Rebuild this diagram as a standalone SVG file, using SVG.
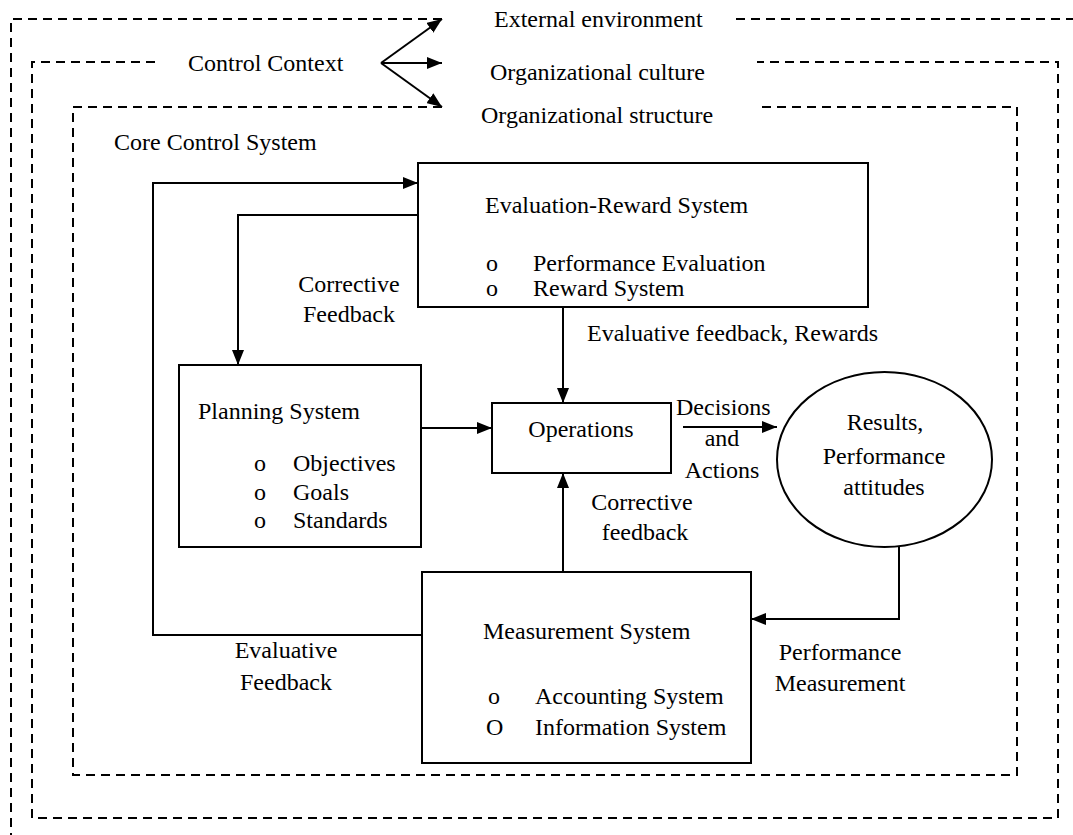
<svg xmlns="http://www.w3.org/2000/svg" width="1073" height="835" viewBox="0 0 1073 835">
<defs>
<style>
text{font-family:"Liberation Serif","Times New Roman",serif;font-size:24px;fill:#000}
.c{text-anchor:middle}
.box{fill:#fff;stroke:#000;stroke-width:2}
.ln{fill:none;stroke:#000;stroke-width:2}
.dash{fill:none;stroke:#000;stroke-width:2;stroke-dasharray:9 6}
</style>
<marker id="ah" markerUnits="userSpaceOnUse" markerWidth="15" markerHeight="12" refX="15" refY="6" orient="auto">
<path d="M0,0 L15,6 L0,12 z" fill="#000"/>
</marker>
</defs>
<rect width="1073" height="835" fill="#fff"/>
<g id="frames">
<path class="dash" d="M442,19 H11 V835 M736,19 H1073"/>
<path class="dash" d="M155,62 H32 V818 H1058 V62 H757"/>
<path class="dash" d="M442,107 H73 V775 H1017 V107 H757"/>
</g>
<g id="context-labels">
<text x="494" y="27">External environment</text>
<text x="188" y="71">Control Context</text>
<text x="490" y="80">Organizational culture</text>
<text x="481" y="123">Organizational structure</text>
<text x="114" y="150">Core Control System</text>
</g>
<g id="connectors">
<path class="ln" d="M381,63 L442,19" marker-end="url(#ah)"/>
<path class="ln" d="M381,63 H442" marker-end="url(#ah)"/>
<path class="ln" d="M381,63 L442,107" marker-end="url(#ah)"/>
<path class="ln" d="M421,635 H153 V183 H418" marker-end="url(#ah)"/>
<path class="ln" d="M418,215 H238 V365" marker-end="url(#ah)"/>
<path class="ln" d="M563,307 V403" marker-end="url(#ah)"/>
<path class="ln" d="M421,428 H492" marker-end="url(#ah)"/>
<path class="ln" d="M683,427 H777" marker-end="url(#ah)"/>
<path class="ln" d="M563,572 V473" marker-end="url(#ah)"/>
<path class="ln" d="M899,547 V619 H751" marker-end="url(#ah)"/>
<text class="c" x="349" y="292">Corrective</text>
<text class="c" x="349" y="322">Feedback</text>
<text x="587" y="341">Evaluative feedback, Rewards</text>
<text x="676" y="415">Decisions</text>
<text class="c" x="722" y="446">and</text>
<text class="c" x="722" y="478">Actions</text>
<text class="c" x="642" y="510">Corrective</text>
<text class="c" x="645" y="540">feedback</text>
<text class="c" x="286" y="658">Evaluative</text>
<text class="c" x="286" y="690">Feedback</text>
<text class="c" x="840" y="660">Performance</text>
<text class="c" x="840" y="691">Measurement</text>
</g>
<g id="evaluation-reward">
<rect class="box" x="418" y="163" width="450" height="144"/>
<text x="485" y="213">Evaluation-Reward System</text>
<text x="486" y="271">o</text><text x="533" y="271">Performance Evaluation</text>
<text x="486" y="296">o</text><text x="533" y="296">Reward System</text>
</g>
<g id="planning">
<rect class="box" x="179" y="365" width="242" height="182"/>
<text x="198" y="419">Planning System</text>
<text x="254" y="471">o</text><text x="293" y="471">Objectives</text>
<text x="254" y="500">o</text><text x="293" y="500">Goals</text>
<text x="254" y="528">o</text><text x="293" y="528">Standards</text>
</g>
<g id="operations">
<rect class="box" x="492" y="403" width="179" height="70"/>
<text class="c" x="581" y="437">Operations</text>
</g>
<g id="results">
<ellipse class="box" cx="884.5" cy="459.5" rx="107.5" ry="87.5"/>
<text class="c" x="885" y="430">Results,</text>
<text class="c" x="884" y="464">Performance</text>
<text class="c" x="884" y="495">attitudes</text>
</g>
<g id="measurement">
<rect class="box" x="422" y="572" width="329" height="191"/>
<text x="483" y="639">Measurement System</text>
<text x="488" y="704">o</text><text x="535" y="704">Accounting System</text>
<text x="486" y="735">O</text><text x="535" y="735">Information System</text>
</g>
</svg>
